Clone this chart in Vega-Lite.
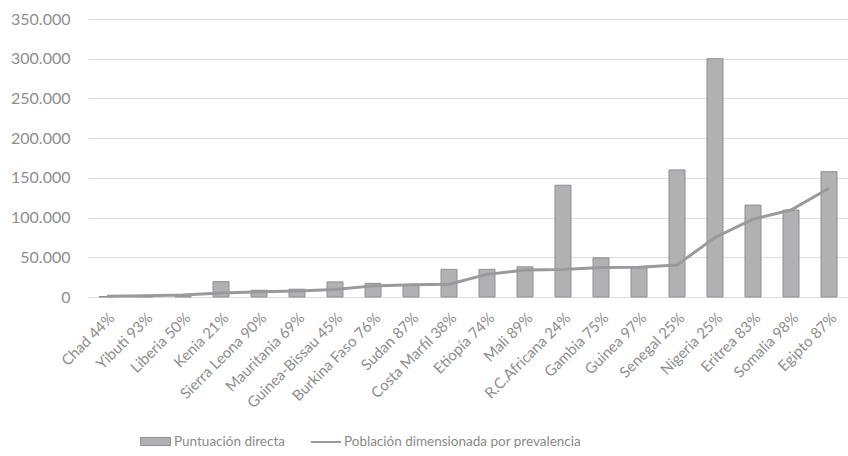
{
  "$schema": "https://vega.github.io/schema/vega-lite/v6.json",
  "width": 760,
  "height": 278,
  "autosize": {"type": "none"},
  "padding": {"left": 88, "top": 19, "right": 0, "bottom": 159},
  "background": "#ffffff",
  "config": {
    "locale": {"number": {"decimal": ",", "thousands": ".", "grouping": [3], "currency": ["", " €"]}},
    "font": "Lato",
    "view": {"stroke": null},
    "axis": {"labelColor": "#8e8e8e", "labelFont": "Lato", "titleColor": "#8e8e8e"},
    "axisY": {
      "labelFontSize": 16,
      "labelPadding": 18,
      "labelOverlap": false,
      "ticks": false,
      "domain": false,
      "gridColor": "#dcdcdc",
      "gridWidth": 1.2
    }
  },
  "data": {
    "values": [
      {"pais": "Chad 44%", "puntuacion": 600, "poblacion": 800},
      {"pais": "Yibuti 93%", "puntuacion": 400, "poblacion": 1500},
      {"pais": "Liberia 50%", "puntuacion": 1500, "poblacion": 2500},
      {"pais": "Kenia 21%", "puntuacion": 19300, "poblacion": 5000},
      {"pais": "Sierra Leona 90%", "puntuacion": 8500, "poblacion": 6500},
      {"pais": "Mauritania 69%", "puntuacion": 9800, "poblacion": 7500},
      {"pais": "Guinea-Bissau 45%", "puntuacion": 19000, "poblacion": 9500},
      {"pais": "Burkina Faso 76%", "puntuacion": 17200, "poblacion": 14000},
      {"pais": "Sudan 87%", "puntuacion": 15000, "poblacion": 15500},
      {"pais": "Costa Marfil 38%", "puntuacion": 34800, "poblacion": 16000},
      {"pais": "Etiopía 74%", "puntuacion": 34800, "poblacion": 28500},
      {"pais": "Mali 89%", "puntuacion": 38000, "poblacion": 34000},
      {"pais": "R.C.Africana 24%", "puntuacion": 140700, "poblacion": 34500},
      {"pais": "Gambia 75%", "puntuacion": 49300, "poblacion": 37000},
      {"pais": "Guinea 97%", "puntuacion": 37400, "poblacion": 37400},
      {"pais": "Senegal 25%", "puntuacion": 160000, "poblacion": 40300},
      {"pais": "Nigeria 25%", "puntuacion": 300000, "poblacion": 75000},
      {"pais": "Eritrea 83%", "puntuacion": 115700, "poblacion": 98000},
      {"pais": "Somalia 98%", "puntuacion": 109500, "poblacion": 109500},
      {"pais": "Egipto 87%", "puntuacion": 157800, "poblacion": 137000}
    ]
  },
  "encoding": {
    "x": {
      "field": "pais",
      "type": "nominal",
      "sort": null,
      "title": null,
      "scale": {"paddingInner": 0, "paddingOuter": 0},
      "axis": {
        "labelAngle": -45,
        "labelFontSize": 15,
        "labelPadding": 13,
        "labelOverlap": false,
        "ticks": false,
        "domain": false,
        "grid": false
      }
    }
  },
  "layer": [
    {
      "mark": {"type": "bar", "size": 16, "stroke": "#8f8f91", "strokeWidth": 1},
      "encoding": {
        "y": {
          "field": "puntuacion",
          "type": "quantitative",
          "title": null,
          "scale": {"domain": [0, 350000], "nice": false},
          "axis": {
            "values": [0, 50000, 100000, 150000, 200000, 250000, 300000, 350000],
            "format": ",.0f"
          }
        },
        "fill": {
          "datum": "Puntuación directa",
          "type": "nominal",
          "scale": {"range": ["#b1b1b3"]},
          "legend": {
            "title": null,
            "orient": "none",
            "legendX": 52,
            "legendY": 407,
            "symbolType": "M-1,-0.27L1,-0.27L1,0.27L-1,0.27Z",
            "symbolSize": 900,
            "symbolStrokeColor": "#8f8f91",
            "symbolStrokeWidth": 1,
            "labelFontSize": 13.5,
            "labelLimit": 0,
            "labelColor": "#8a8a8a",
            "labelOffset": 3
          }
        }
      }
    },
    {
      "mark": {"type": "line", "strokeWidth": 3},
      "encoding": {
        "y": {
          "field": "poblacion",
          "type": "quantitative",
          "title": null,
          "axis": {
            "values": [0, 50000, 100000, 150000, 200000, 250000, 300000, 350000],
            "format": ",.0f"
          }
        },
        "stroke": {
          "datum": "Población dimensionada por prevalencia",
          "type": "nominal",
          "scale": {"range": ["#9a9a9c"]},
          "legend": {
            "title": null,
            "orient": "none",
            "legendX": 222,
            "legendY": 407,
            "symbolType": "stroke",
            "symbolSize": 900,
            "symbolStrokeWidth": 2,
            "labelFontSize": 13.5,
            "labelLimit": 0,
            "labelColor": "#8a8a8a",
            "labelOffset": 2
          }
        }
      }
    }
  ]
}
